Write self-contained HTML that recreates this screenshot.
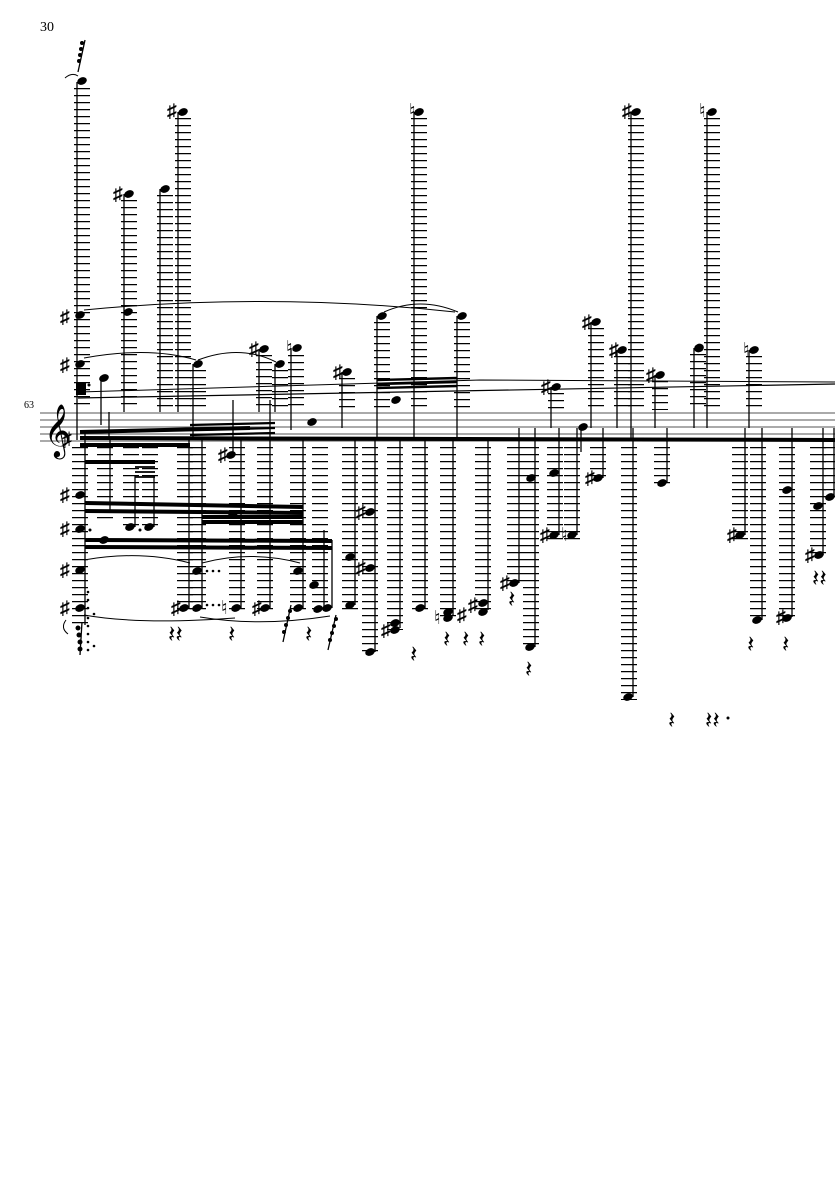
<!DOCTYPE html>
<html><head><meta charset="utf-8"><style>
html,body{margin:0;padding:0;background:#fff;}
svg{display:block}
text{font-family:"Liberation Serif","DejaVu Serif",serif;fill:#000}
.L{stroke:#000;stroke-width:16;stroke-dasharray:1.2 5.8;fill:none}
.s{stroke:#000;stroke-width:1.3;fill:none}
.st{stroke:#555;stroke-width:0.9}
.b{stroke:#000;stroke-width:4;fill:none}
.t{stroke:#000;stroke-width:1;fill:none}
</style></head><body>
<svg width="835" height="1181" viewBox="0 0 835 1181" xmlns="http://www.w3.org/2000/svg">
<text x="40" y="31" font-size="14">30</text>
<text x="24" y="408" font-size="10">63</text>
<g class="st">
<line x1="40" y1="413" x2="835" y2="413"/><line x1="40" y1="420" x2="835" y2="420"/>
<line x1="40" y1="427" x2="835" y2="427"/><line x1="40" y1="434" x2="835" y2="434"/>
<line x1="40" y1="441" x2="835" y2="441"/>
</g>
<text x="44" y="446" font-size="46" font-family="DejaVu Sans">𝄞</text>
<text x="62" y="446" font-size="20">♯</text>
<g class="L">
<line x1="82" y1="88" x2="82" y2="410"/>
<line x1="129" y1="200" x2="129" y2="410"/>
<line x1="165" y1="195" x2="165" y2="410"/>
<line x1="183" y1="118" x2="183" y2="410"/>
<line x1="198" y1="370" x2="198" y2="410"/>
<line x1="264" y1="355" x2="264" y2="410"/>
<line x1="280" y1="370" x2="280" y2="410"/>
<line x1="296" y1="355" x2="296" y2="410"/>
<line x1="347" y1="378" x2="347" y2="410"/>
<line x1="382" y1="322" x2="382" y2="410"/>
<line x1="419" y1="118" x2="419" y2="410"/>
<line x1="462" y1="322" x2="462" y2="410"/>
<line x1="556" y1="393" x2="556" y2="410"/>
<line x1="596" y1="328" x2="596" y2="410"/>
<line x1="622" y1="356" x2="622" y2="410"/>
<line x1="636" y1="118" x2="636" y2="410"/>
<line x1="660" y1="381" x2="660" y2="410"/>
<line x1="698" y1="354" x2="698" y2="410"/>
<line x1="712" y1="118" x2="712" y2="410"/>
<line x1="754" y1="356" x2="754" y2="410"/>
</g>
<g class="L">
<line x1="80" y1="447" x2="80" y2="628"/>
<line x1="105" y1="447" x2="105" y2="520"/>
<line x1="131" y1="447" x2="131" y2="530"/>
<line x1="150" y1="447" x2="150" y2="530"/>
<line x1="185" y1="447" x2="185" y2="610"/>
<line x1="198" y1="447" x2="198" y2="610"/>
<line x1="237" y1="447" x2="237" y2="610"/>
<line x1="265" y1="447" x2="265" y2="610"/>
<line x1="298" y1="447" x2="298" y2="610"/>
<line x1="320" y1="447" x2="320" y2="610"/>
<line x1="350" y1="447" x2="350" y2="610"/>
<line x1="370" y1="447" x2="370" y2="656"/>
<line x1="395" y1="447" x2="395" y2="630"/>
<line x1="420" y1="447" x2="420" y2="612"/>
<line x1="448" y1="447" x2="448" y2="620"/>
<line x1="483" y1="447" x2="483" y2="615"/>
<line x1="515" y1="447" x2="515" y2="585"/>
<line x1="531" y1="447" x2="531" y2="650"/>
<line x1="555" y1="447" x2="555" y2="540"/>
<line x1="572" y1="447" x2="572" y2="540"/>
<line x1="598" y1="447" x2="598" y2="480"/>
<line x1="629" y1="447" x2="629" y2="700"/>
<line x1="662" y1="447" x2="662" y2="485"/>
<line x1="740" y1="447" x2="740" y2="540"/>
<line x1="758" y1="447" x2="758" y2="622"/>
<line x1="787" y1="447" x2="787" y2="620"/>
<line x1="818" y1="447" x2="818" y2="558"/>
<line x1="832" y1="447" x2="832" y2="500"/>
</g>
<g class="s">
<line x1="77" y1="82" x2="77" y2="440"/>
<line x1="124" y1="194" x2="124" y2="412"/>
<line x1="160" y1="189" x2="160" y2="412"/>
<line x1="178" y1="112" x2="178" y2="412"/>
<line x1="193" y1="364" x2="193" y2="440"/>
<line x1="259" y1="349" x2="259" y2="412"/>
<line x1="275" y1="364" x2="275" y2="412"/>
<line x1="291" y1="348" x2="291" y2="430"/>
<line x1="342" y1="372" x2="342" y2="428"/>
<line x1="377" y1="316" x2="377" y2="440"/>
<line x1="414" y1="112" x2="414" y2="440"/>
<line x1="457" y1="316" x2="457" y2="440"/>
<line x1="551" y1="387" x2="551" y2="428"/>
<line x1="591" y1="322" x2="591" y2="428"/>
<line x1="617" y1="350" x2="617" y2="428"/>
<line x1="631" y1="112" x2="631" y2="440"/>
<line x1="655" y1="375" x2="655" y2="428"/>
<line x1="694" y1="348" x2="694" y2="428"/>
<line x1="707" y1="112" x2="707" y2="428"/>
<line x1="749" y1="350" x2="749" y2="428"/>
<line x1="101" y1="378" x2="101" y2="425"/>
<line x1="109" y1="412" x2="109" y2="440"/>
</g>
<g class="s">
<line x1="85" y1="625" x2="85" y2="430"/>
<line x1="110" y1="513" x2="110" y2="440"/>
<line x1="135" y1="527" x2="135" y2="475"/>
<line x1="154" y1="527" x2="154" y2="475"/>
<line x1="189" y1="608" x2="189" y2="440"/>
<line x1="202" y1="608" x2="202" y2="440"/>
<line x1="233" y1="455" x2="233" y2="400"/>
<line x1="241" y1="608" x2="241" y2="440"/>
<line x1="270" y1="608" x2="270" y2="400"/>
<line x1="303" y1="608" x2="303" y2="440"/>
<line x1="324" y1="608" x2="324" y2="530"/>
<line x1="332" y1="608" x2="332" y2="540"/>
<line x1="355" y1="605" x2="355" y2="440"/>
<line x1="375" y1="652" x2="375" y2="440"/>
<line x1="400" y1="628" x2="400" y2="440"/>
<line x1="425" y1="608" x2="425" y2="440"/>
<line x1="453" y1="615" x2="453" y2="440"/>
<line x1="488" y1="610" x2="488" y2="440"/>
<line x1="519" y1="583" x2="519" y2="428"/>
<line x1="535" y1="647" x2="535" y2="428"/>
<line x1="559" y1="535" x2="559" y2="428"/>
<line x1="577" y1="535" x2="577" y2="428"/>
<line x1="581" y1="427" x2="581" y2="452"/>
<line x1="603" y1="478" x2="603" y2="428"/>
<line x1="633" y1="697" x2="633" y2="428"/>
<line x1="667" y1="483" x2="667" y2="428"/>
<line x1="745" y1="535" x2="745" y2="428"/>
<line x1="762" y1="620" x2="762" y2="428"/>
<line x1="792" y1="617" x2="792" y2="428"/>
<line x1="823" y1="555" x2="823" y2="428"/>
<line x1="834" y1="497" x2="834" y2="428"/>
</g>
<path d="M80 392 L480 380 L835 382" class="t" stroke-width="1.6"/>
<path d="M78 398 L835 384" stroke="#000" stroke-width="1.2" fill="none"/>
<path d="M80 438 L835 440" class="b"/>
<path d="M80 432 L250 428" class="b" stroke-width="3"/>
<path d="M190 425 L275 423 M190 430 L275 428 M190 435 L275 433" stroke="#000" stroke-width="2.2"/>
<path d="M377 380 L457 378 M377 384 L457 382 M377 388 L457 386" stroke="#000" stroke-width="2.4"/>
<path d="M80 445 L190 445" class="b" stroke-width="3"/>
<path d="M85 462 L155 462" class="b" stroke-width="3"/>
<path d="M135 467 L155 467 M135 472 L155 472 M135 477 L155 477" stroke="#000" stroke-width="1.8"/>
<path d="M85 503 L303 507 M85 511 L303 513" class="b" stroke-width="3.5"/>
<path d="M202 517 L303 517 M202 522 L303 522" class="b" stroke-width="3"/>
<path d="M85 540 L332 541 M85 547 L332 548" class="b" stroke-width="3.5"/>
<g class="t">
<path d="M84 310 Q270 292 455 312"/><path d="M384 312 Q420 296 458 312"/>
<path d="M84 358 Q150 346 196 360"/><path d="M198 360 Q240 344 276 362"/>
<path d="M84 560 Q140 550 190 563"/><path d="M202 563 Q250 550 300 563"/>
<path d="M84 615 Q140 625 235 618"/><path d="M200 617 Q260 627 330 616"/>
<path d="M65 78 Q72 72 78 76"/><path d="M66 620 Q60 628 68 634"/>
</g>
<g fill="#000">
<ellipse cx="82" cy="81" rx="5" ry="3.6" transform="rotate(-25 82 81)"/>
<ellipse cx="129" cy="194" rx="5" ry="3.6" transform="rotate(-25 129 194)"/>
<ellipse cx="165" cy="189" rx="5" ry="3.6" transform="rotate(-25 165 189)"/>
<ellipse cx="183" cy="112" rx="5" ry="3.6" transform="rotate(-25 183 112)"/>
<ellipse cx="128" cy="312" rx="5" ry="3.6" transform="rotate(-25 128 312)"/>
<ellipse cx="80" cy="315" rx="5" ry="3.6" transform="rotate(-25 80 315)"/>
<ellipse cx="80" cy="364" rx="5" ry="3.6" transform="rotate(-25 80 364)"/>
<rect x="76" y="383" width="10" height="12"/>
<ellipse cx="104" cy="378" rx="5" ry="3.6" transform="rotate(-25 104 378)"/>
<ellipse cx="198" cy="364" rx="5" ry="3.6" transform="rotate(-25 198 364)"/>
<ellipse cx="264" cy="349" rx="5" ry="3.6" transform="rotate(-25 264 349)"/>
<ellipse cx="280" cy="364" rx="5" ry="3.6" transform="rotate(-25 280 364)"/>
<ellipse cx="297" cy="348" rx="5" ry="3.6" transform="rotate(-25 297 348)"/>
<ellipse cx="347" cy="372" rx="5" ry="3.6" transform="rotate(-25 347 372)"/>
<ellipse cx="382" cy="316" rx="5" ry="3.6" transform="rotate(-25 382 316)"/>
<ellipse cx="396" cy="400" rx="5" ry="3.6" transform="rotate(-25 396 400)"/>
<ellipse cx="419" cy="112" rx="5" ry="3.6" transform="rotate(-25 419 112)"/>
<ellipse cx="462" cy="316" rx="5" ry="3.6" transform="rotate(-25 462 316)"/>
<ellipse cx="312" cy="422" rx="5" ry="3.6" transform="rotate(-25 312 422)"/>
<ellipse cx="556" cy="387" rx="5" ry="3.6" transform="rotate(-25 556 387)"/>
<ellipse cx="596" cy="322" rx="5" ry="3.6" transform="rotate(-25 596 322)"/>
<ellipse cx="622" cy="350" rx="5" ry="3.6" transform="rotate(-25 622 350)"/>
<ellipse cx="636" cy="112" rx="5" ry="3.6" transform="rotate(-25 636 112)"/>
<ellipse cx="660" cy="375" rx="5" ry="3.6" transform="rotate(-25 660 375)"/>
<ellipse cx="699" cy="348" rx="5" ry="4.2" transform="rotate(-25 699 348)"/>
<ellipse cx="712" cy="112" rx="5" ry="3.6" transform="rotate(-25 712 112)"/>
<ellipse cx="754" cy="350" rx="5" ry="3.6" transform="rotate(-25 754 350)"/>
<ellipse cx="583" cy="427" rx="5" ry="3.6" transform="rotate(-25 583 427)"/>
<ellipse cx="80" cy="495" rx="5" ry="3.6" transform="rotate(-25 80 495)"/>
<ellipse cx="80" cy="529" rx="5" ry="3.6" transform="rotate(-25 80 529)"/>
<ellipse cx="80" cy="570" rx="5" ry="3.6" transform="rotate(-25 80 570)"/>
<ellipse cx="80" cy="608" rx="5" ry="3.6" transform="rotate(-25 80 608)"/>
<ellipse cx="104" cy="540" rx="5" ry="3.6" transform="rotate(-25 104 540)"/>
<ellipse cx="130" cy="527" rx="5" ry="3.6" transform="rotate(-25 130 527)"/>
<ellipse cx="149" cy="527" rx="5" ry="3.6" transform="rotate(-25 149 527)"/>
<ellipse cx="184" cy="608" rx="5" ry="3.6" transform="rotate(-25 184 608)"/>
<ellipse cx="197" cy="608" rx="5" ry="3.6" transform="rotate(-25 197 608)"/>
<ellipse cx="197" cy="571" rx="5" ry="3.6" transform="rotate(-25 197 571)"/>
<ellipse cx="231" cy="455" rx="5" ry="3.6" transform="rotate(-25 231 455)"/>
<ellipse cx="233" cy="514" rx="5" ry="3.6" transform="rotate(-25 233 514)"/>
<ellipse cx="236" cy="608" rx="5" ry="3.6" transform="rotate(-25 236 608)"/>
<ellipse cx="265" cy="608" rx="5" ry="3.6" transform="rotate(-25 265 608)"/>
<ellipse cx="298" cy="608" rx="5" ry="3.6" transform="rotate(-25 298 608)"/>
<ellipse cx="298" cy="571" rx="5" ry="3.6" transform="rotate(-25 298 571)"/>
<ellipse cx="314" cy="585" rx="5" ry="3.6" transform="rotate(-25 314 585)"/>
<ellipse cx="318" cy="609" rx="5" ry="3.6" transform="rotate(-25 318 609)"/>
<ellipse cx="327" cy="608" rx="5" ry="3.6" transform="rotate(-25 327 608)"/>
<ellipse cx="350" cy="605" rx="5" ry="3.6" transform="rotate(-25 350 605)"/>
<ellipse cx="350" cy="557" rx="5" ry="3.6" transform="rotate(-25 350 557)"/>
<ellipse cx="370" cy="652" rx="5" ry="3.6" transform="rotate(-25 370 652)"/>
<ellipse cx="370" cy="568" rx="5" ry="3.6" transform="rotate(-25 370 568)"/>
<ellipse cx="370" cy="512" rx="5" ry="3.6" transform="rotate(-25 370 512)"/>
<ellipse cx="395" cy="623" rx="5" ry="3.6" transform="rotate(-25 395 623)"/>
<ellipse cx="395" cy="630" rx="5" ry="3.6" transform="rotate(-25 395 630)"/>
<ellipse cx="420" cy="608" rx="5" ry="3.6" transform="rotate(-25 420 608)"/>
<ellipse cx="448" cy="612" rx="5" ry="3.6" transform="rotate(-25 448 612)"/>
<ellipse cx="448" cy="618" rx="5" ry="3.6" transform="rotate(-25 448 618)"/>
<ellipse cx="483" cy="603" rx="5" ry="3.6" transform="rotate(-25 483 603)"/>
<ellipse cx="483" cy="612" rx="5" ry="3.6" transform="rotate(-25 483 612)"/>
<ellipse cx="514" cy="583" rx="5" ry="3.6" transform="rotate(-25 514 583)"/>
<ellipse cx="530" cy="647" rx="5" ry="3.6" transform="rotate(-25 530 647)"/>
<ellipse cx="531" cy="478" rx="5" ry="3.6" transform="rotate(-25 531 478)"/>
<ellipse cx="554" cy="473" rx="5" ry="3.6" transform="rotate(-25 554 473)"/>
<ellipse cx="554" cy="535" rx="5" ry="3.6" transform="rotate(-25 554 535)"/>
<ellipse cx="572" cy="535" rx="5" ry="3.6" transform="rotate(-25 572 535)"/>
<ellipse cx="598" cy="478" rx="5" ry="3.6" transform="rotate(-25 598 478)"/>
<ellipse cx="628" cy="697" rx="5" ry="3.6" transform="rotate(-25 628 697)"/>
<ellipse cx="662" cy="483" rx="5" ry="3.6" transform="rotate(-25 662 483)"/>
<ellipse cx="740" cy="535" rx="5" ry="3.6" transform="rotate(-25 740 535)"/>
<ellipse cx="757" cy="620" rx="5" ry="3.6" transform="rotate(-25 757 620)"/>
<ellipse cx="787" cy="490" rx="5" ry="3.6" transform="rotate(-25 787 490)"/>
<ellipse cx="787" cy="618" rx="5" ry="3.6" transform="rotate(-25 787 618)"/>
<ellipse cx="818" cy="506" rx="5" ry="3.6" transform="rotate(-25 818 506)"/>
<ellipse cx="819" cy="555" rx="5" ry="3.6" transform="rotate(-25 819 555)"/>
<ellipse cx="830" cy="497" rx="5" ry="3.6" transform="rotate(-25 830 497)"/>
<circle cx="89" cy="385" r="1.5"/><circle cx="90" cy="530" r="1.5"/><circle cx="140" cy="530" r="1.5"/>
<circle cx="207" cy="571" r="1.3"/><circle cx="213" cy="571" r="1.3"/><circle cx="219" cy="571" r="1.3"/>
<circle cx="207" cy="605" r="1.3"/><circle cx="213" cy="605" r="1.3"/><circle cx="219" cy="605" r="1.3"/>
<circle cx="88" cy="592" r="1.3"/><circle cx="88" cy="600" r="1.3"/><circle cx="88" cy="608" r="1.3"/>
<circle cx="88" cy="618" r="1.3"/><circle cx="88" cy="626" r="1.3"/><circle cx="88" cy="634" r="1.3"/>
<circle cx="88" cy="642" r="1.3"/><circle cx="88" cy="650" r="1.3"/><circle cx="94" cy="614" r="1.3"/><circle cx="94" cy="646" r="1.3"/>
<circle cx="728" cy="718" r="1.5"/>
</g>
<g font-size="19" font-weight="bold">
<text x="60" y="323">♯</text><text x="60" y="371">♯</text><text x="113" y="200">♯</text>
<text x="167" y="117">♯</text><text x="249" y="355">♯</text><text x="286" y="354">♮</text>
<text x="333" y="378">♯</text><text x="409" y="117">♮</text><text x="541" y="393">♯</text>
<text x="582" y="328">♯</text><text x="609" y="356">♯</text><text x="622" y="117">♯</text>
<text x="646" y="381">♯</text><text x="699" y="117">♮</text><text x="743" y="356">♮</text>
<text x="60" y="501">♯</text><text x="60" y="535">♯</text><text x="60" y="576">♯</text><text x="60" y="614">♯</text>
<text x="171" y="614">♯</text><text x="221" y="614">♮</text><text x="252" y="614">♯</text>
<text x="218" y="461">♯</text><text x="356" y="518">♯</text><text x="356" y="574">♯</text>
<text x="381" y="636">♯</text><text x="434" y="624">♮</text><text x="457" y="621">♯</text><text x="468" y="611">♯</text>
<text x="500" y="589">♯</text><text x="540" y="541">♯</text><text x="561" y="541">♮</text>
<text x="585" y="484">♯</text><text x="727" y="541">♯</text><text x="776" y="623">♯</text><text x="805" y="561">♯</text>
</g>
<g font-size="24" font-family="DejaVu Sans">
<text x="168" y="642">𝄽𝄽</text><text x="228" y="642">𝄽</text><text x="305" y="642">𝄽</text>
<text x="410" y="662">𝄽</text><text x="443" y="647">𝄽</text><text x="462" y="647">𝄽</text><text x="478" y="647">𝄽</text>
<text x="508" y="607">𝄽</text><text x="525" y="677">𝄽</text><text x="668" y="728">𝄽</text><text x="705" y="728">𝄽𝄽</text>
<text x="747" y="652">𝄽</text><text x="782" y="652">𝄽</text><text x="812" y="586">𝄽𝄽</text>
</g>
<g class="s"><line x1="78" y1="72" x2="85" y2="40"/><line x1="283" y1="642" x2="291" y2="605"/><line x1="328" y1="650" x2="336" y2="615"/><line x1="80" y1="655" x2="82" y2="622"/></g>
<g fill="#000">
<circle cx="79" cy="61" r="2"/><circle cx="80" cy="55" r="2"/><circle cx="81" cy="49" r="2"/><circle cx="82" cy="43" r="2"/>
<circle cx="284" cy="632" r="2"/><circle cx="286" cy="625" r="2"/><circle cx="288" cy="618" r="2"/><circle cx="290" cy="611" r="2"/>
<circle cx="330" cy="640" r="2"/><circle cx="332" cy="633" r="2"/><circle cx="334" cy="626" r="2"/><circle cx="336" cy="619" r="2"/>
<circle cx="78" cy="628" r="2.5"/><circle cx="79" cy="635" r="2.5"/><circle cx="80" cy="642" r="2.5"/><circle cx="80" cy="649" r="2.5"/>
</g>
</svg>
</body></html>
